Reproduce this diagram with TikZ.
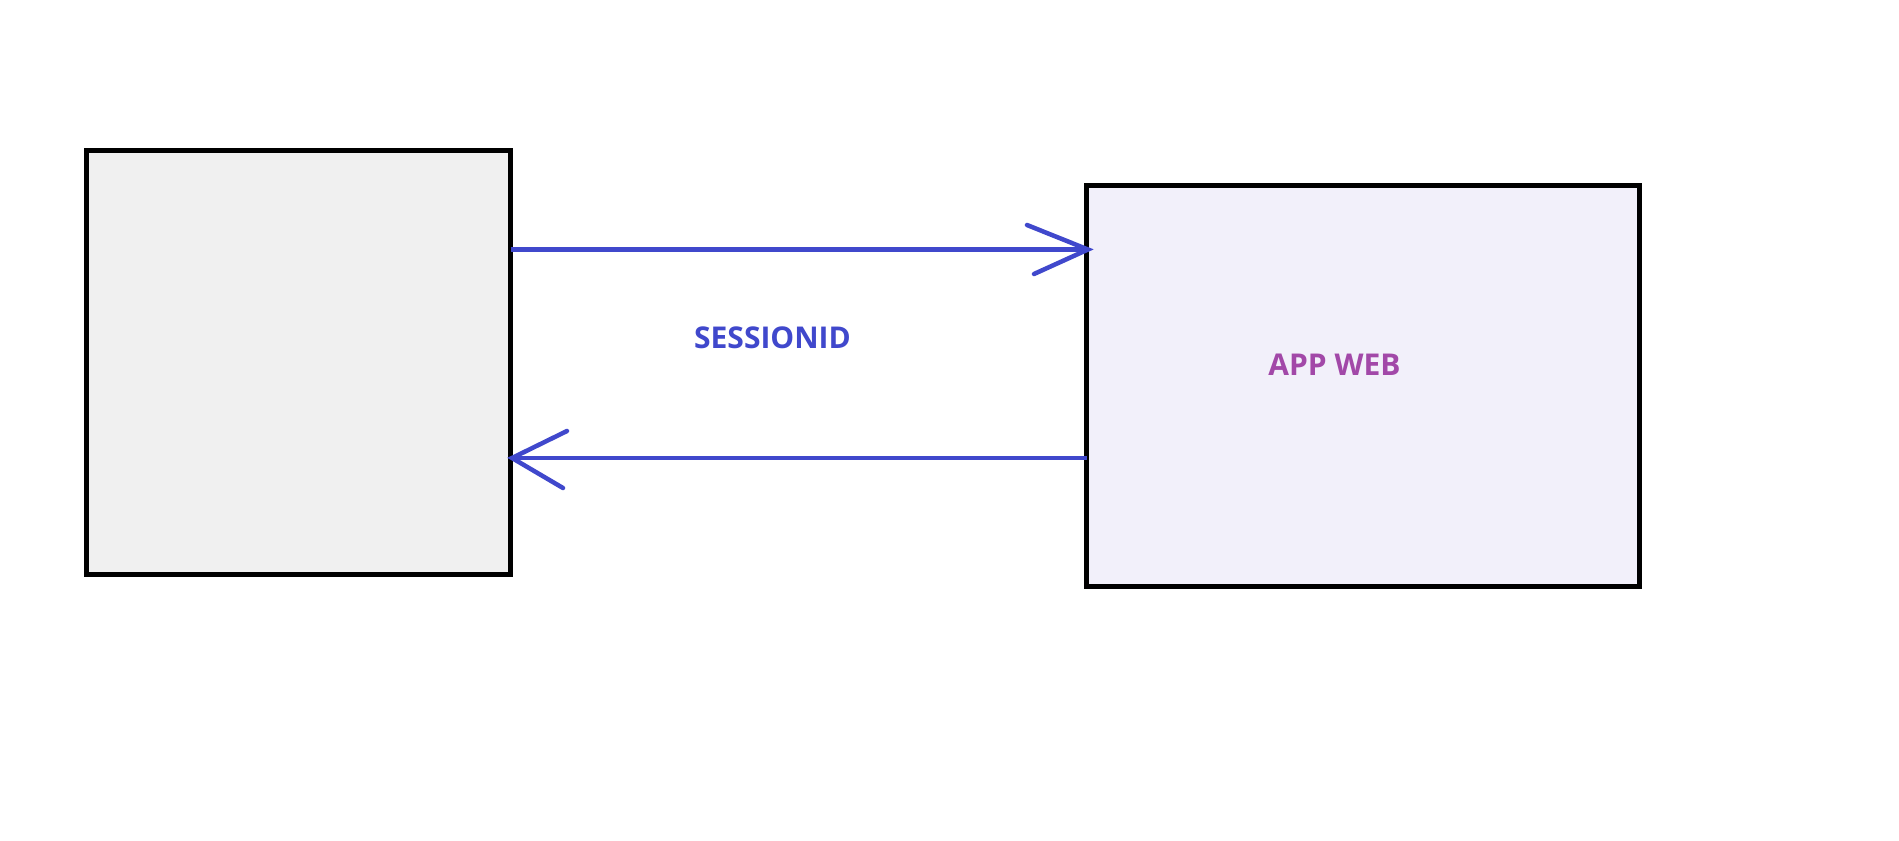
\documentclass[tikz,border=0pt]{standalone}
\usepackage{fontspec}
\setmainfont{Open Sans}
\definecolor{arrblue}{RGB}{64,72,204}
\definecolor{apppurple}{RGB}{162,72,168}
\definecolor{leftfill}{RGB}{240,240,240}
\definecolor{rightfill}{RGB}{242,240,250}
\tikzset{
  boxstyle/.style={draw=black, line width=5pt},
  conn/.style={draw=arrblue, line width=4.5pt},
  barb/.style={draw=arrblue, line width=4.5pt, line cap=round},
  lbl/.style={font=\bfseries\fontsize{30}{36}\selectfont, inner sep=0pt, anchor=center}
}
\begin{document}
\begin{tikzpicture}[x=1pt,y=-1pt]
\useasboundingbox (0,0) rectangle (1899,841);
\fill[white] (0,0) rectangle (1899,841);
% boxes
\path[boxstyle, fill=leftfill] (86.5,150) rectangle (510.5,574);
\path[boxstyle, fill=rightfill] (1086.5,185.5) rectangle (1639,586.5);
\coordinate (lb-top) at (510.5,249.5);
\coordinate (rb-top) at (1088,249.5);
\coordinate (rb-bot) at (1086.5,458);
\coordinate (lb-bot) at (512,458);
\coordinate (b1) at (1027,225);
\coordinate (b2) at (1034,274);
\coordinate (b3) at (567,431);
\coordinate (b4) at (563,488);
% connectors
\draw[conn] (lb-top) -- (rb-top);
\draw[barb] (b1) -- (rb-top) -- (b2);
\draw[conn] (rb-bot) -- (lb-bot);
\draw[barb] (b3) -- (lb-bot) -- (b4);
% labels
\node[lbl, text=arrblue] (sess) at (772.5,338) {SESSIONID};
\node[lbl, text=apppurple] (app) at (1334.5,364.5) {APP WEB};
\end{tikzpicture}
\end{document}
